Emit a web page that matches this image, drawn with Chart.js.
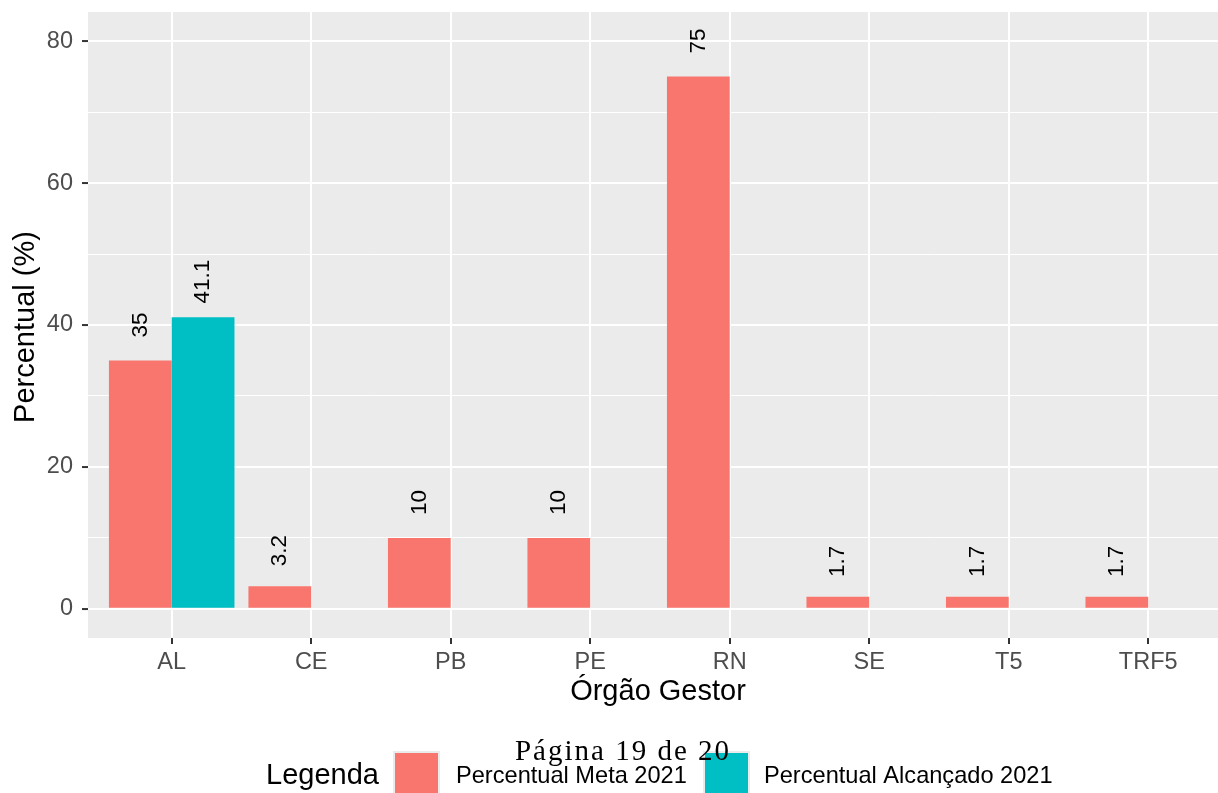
<!DOCTYPE html>
<html>
<head>
<meta charset="utf-8">
<script src="https://cdn.jsdelivr.net/npm/chart.js@4.4.1/dist/chart.umd.min.js"></script>
<style>
  html, body { margin: 0; padding: 0; background: #fff; }
</style>
</head>
<body>
<canvas id="chart" width="1218" height="793"></canvas>
<script>
const categories = ["AL", "CE", "PB", "PE", "RN", "SE", "T5", "TRF5"];
const metaValues = [35, 3.2, 10, 10, 75, 1.7, 1.7, 1.7];
const alcancadoValues = [41.1, null, null, null, null, null, null, null];
const seriesNames = ["Percentual Meta 2021", "Percentual Alcançado 2021"];
const seriesColors = ["#F8766D", "#00BFC4"];
const yTicks = [0, 10, 20, 30, 40, 50, 60, 70, 80];

const FONT = "'Liberation Sans', Arial, sans-serif";
const isMajor = (v) => v % 20 === 0;

// grey ggplot panel behind the grid
const panelBg = {
  id: "panelBg",
  beforeDraw(chart) {
    const { ctx, chartArea: a } = chart;
    ctx.save();
    ctx.fillStyle = "#EBEBEB";
    ctx.fillRect(a.left, a.top, a.right - a.left, a.bottom - a.top);
    ctx.restore();
  }
};

// rotated value labels above the bars
const valueLabels = {
  id: "valueLabels",
  afterDatasetsDraw(chart) {
    const { ctx } = chart;
    const yScale = chart.scales.y;
    [metaValues, alcancadoValues].forEach((vals, d) => {
      const meta = chart.getDatasetMeta(d);
      meta.data.forEach((bar, i) => {
        const v = vals[i];
        if (v === null) return;
        ctx.save();
        ctx.translate(bar.x, yScale.getPixelForValue(v + 5));
        ctx.rotate(-Math.PI / 2);
        ctx.font = "22.5px " + FONT;
        ctx.fillStyle = "#000";
        ctx.textAlign = "center";
        ctx.textBaseline = "middle";
        ctx.fillText(String(v), 0, 0);
        ctx.restore();
      });
    });
  }
};

// axis titles, legend and the page footer
const decorations = {
  id: "decorations",
  afterDraw(chart) {
    const { ctx } = chart;
    ctx.save();
    ctx.fillStyle = "#000";

    ctx.font = "29px " + FONT;
    ctx.textAlign = "center";
    ctx.textBaseline = "alphabetic";
    ctx.fillText("Órgão Gestor", 658, 700);

    ctx.save();
    ctx.translate(34, 327);
    ctx.rotate(-Math.PI / 2);
    ctx.fillText("Percentual (%)", 0, 0);
    ctx.restore();

    // legend
    ctx.textAlign = "left";
    ctx.font = "29px " + FONT;
    ctx.fillText("Legenda", 266, 784);
    const keyX = [393, 703];
    const textX = [456, 764];
    ctx.font = "23.6px " + FONT;
    seriesNames.forEach((name, k) => {
      ctx.fillStyle = "#EBEBEB";
      ctx.fillRect(keyX[k], 751, 47, 47);
      ctx.fillStyle = seriesColors[k];
      ctx.fillRect(keyX[k] + 2, 753, 43, 43);
      ctx.fillStyle = "#000";
      ctx.fillText(name, textX[k], 783);
    });

    // page footer from the document, drawn over the legend
    ctx.font = "29px 'Liberation Serif', 'DejaVu Serif', serif";
    ctx.letterSpacing = "2px";
    ctx.textAlign = "center";
    ctx.fillStyle = "#000";
    ctx.fillText("Página 19 de 20", 623, 760);
    ctx.restore();
  }
};

new Chart(document.getElementById("chart"), {
  type: "bar",
  data: {
    datasets: [
      {
        label: seriesNames[0],
        data: metaValues.map((v, i) => ({ x: i + 1, y: v })),
        backgroundColor: seriesColors[0],
        borderWidth: 0,
        barPercentage: 1,
        categoryPercentage: 0.9
      },
      {
        label: seriesNames[1],
        data: alcancadoValues.map((v, i) => ({ x: i + 1, y: v })),
        backgroundColor: seriesColors[1],
        borderWidth: 0,
        barPercentage: 1,
        categoryPercentage: 0.9
      }
    ]
  },
  options: {
    responsive: false,
    animation: false,
    layout: { padding: { top: 12, right: 0, bottom: 95, left: 0 } },
    plugins: {
      legend: { display: false },
      tooltip: { enabled: false }
    },
    scales: {
      x: {
        type: "linear",
        min: 0.4,
        max: 8.5,
        offset: false,
        afterBuildTicks: (s) => { s.ticks = categories.map((c, i) => ({ value: i + 1 })); },
        afterFit: (s) => { s.height = 60; s.paddingLeft = 0; s.paddingRight = 0; },
        ticks: {
          callback: (v) => categories[v - 1],
          color: "#4D4D4D",
          font: { family: FONT, size: 23.5 },
          padding: 4,
          maxRotation: 0,
          autoSkip: false
        },
        grid: { offset: false, color: "#FFFFFF", lineWidth: 2, tickColor: "#333333", tickLength: 6, tickWidth: 2 },
        border: { display: false }
      },
      y: {
        type: "linear",
        min: -4.1,
        max: 84.1,
        afterBuildTicks: (s) => { s.ticks = yTicks.map((v) => ({ value: v })); },
        afterFit: (s) => { s.width = 88; s.paddingTop = 0; s.paddingBottom = 0; },
        ticks: {
          callback: (v) => (isMajor(v) ? String(v) : ""),
          color: "#4D4D4D",
          font: { family: FONT, size: 23.5 },
          padding: 9,
          autoSkip: false
        },
        grid: {
          color: "#FFFFFF",
          lineWidth: (c) => (c.tick && isMajor(c.tick.value) ? 2.1 : 1),
          tickColor: (c) => (c.tick && isMajor(c.tick.value) ? "#333333" : "rgba(0,0,0,0)"),
          tickLength: 6,
          tickWidth: 2
        },
        border: { display: false }
      }
    }
  },
  plugins: [panelBg, valueLabels, decorations]
});
</script>
</body>
</html>
